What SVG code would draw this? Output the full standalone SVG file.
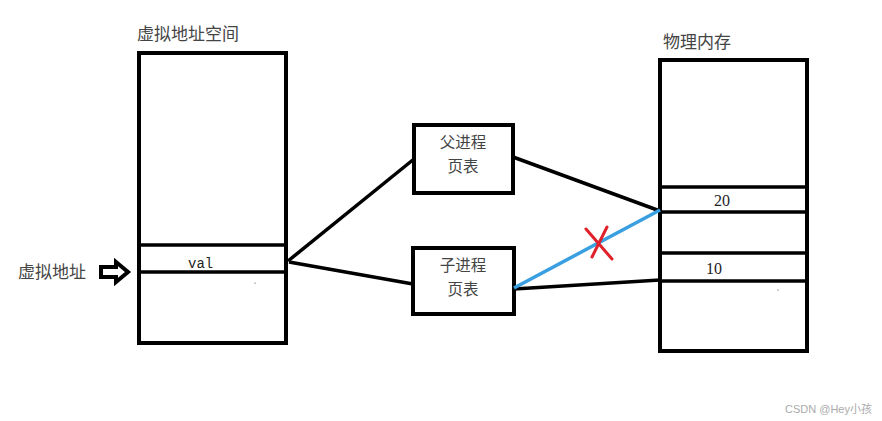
<svg xmlns="http://www.w3.org/2000/svg" width="882" height="421" viewBox="0 0 882 421">
<style>
.box{fill:#fff;stroke:#000;stroke-width:4}
.row{stroke:#000;stroke-width:3.5}
.cjk{font-family:"Noto Sans CJK SC","Noto Sans",sans-serif;font-size:17px;fill:#444}
.pt{font-family:"Noto Sans CJK SC","Noto Sans",sans-serif;font-size:15.5px;fill:#444}
.mono{font-family:"Liberation Mono",monospace;font-size:14px;fill:#222}
.num{font-family:"Liberation Serif",serif;font-size:16px;fill:#222}
.conn{stroke:#000;stroke-width:3.5;fill:none}
</style>
<rect width="882" height="421" fill="#fff"/>
<g id="virtual-space">
<text class="cjk" x="137" y="40">虚拟地址空间</text>
<rect class="box" x="139" y="53" width="147" height="290"/>
<line class="row" x1="139" y1="245" x2="286" y2="245"/>
<line class="row" x1="139" y1="272" x2="286" y2="272"/>
<text class="mono" x="188" y="268">val</text>
<circle cx="255" cy="283" r="0.6" fill="#333"/>
</g>
<g id="virtual-addr">
<text class="cjk" x="18" y="278">虚拟地址</text>
<path d="M101,267 H116 V262 L128,272 L116,282 V277 H101 Z" fill="#fff" stroke="#000" stroke-width="4" stroke-linejoin="miter"/>
</g>
<g id="parent-pt">
<rect class="box" x="414" y="125" width="99" height="68"/>
<text class="pt" x="463" y="148" text-anchor="middle">父进程</text>
<text class="pt" x="463" y="172" text-anchor="middle">页表</text>
</g>
<g id="child-pt">
<rect class="box" x="413" y="248" width="101" height="66"/>
<text class="pt" x="463" y="271" text-anchor="middle">子进程</text>
<text class="pt" x="463" y="295" text-anchor="middle">页表</text>
</g>
<g id="physical-mem">
<text class="cjk" x="663" y="48">物理内存</text>
<rect class="box" x="660" y="60" width="147" height="291"/>
<line class="row" x1="660" y1="187" x2="807" y2="187"/>
<line class="row" x1="660" y1="212" x2="807" y2="212"/>
<line class="row" x1="660" y1="253" x2="807" y2="253"/>
<line class="row" x1="660" y1="281" x2="807" y2="281"/>
<text class="num" x="722" y="206" text-anchor="middle">20</text>
<text class="num" x="714" y="274" text-anchor="middle">10</text>
<circle cx="778" cy="290" r="0.6" fill="#333"/>
</g>
<g id="connectors">
<line class="conn" x1="288" y1="261" x2="414" y2="159"/>
<line class="conn" x1="289" y1="262" x2="413" y2="284"/>
<line class="conn" x1="513" y1="157" x2="660" y2="211"/>
<line class="conn" x1="514" y1="289" x2="660" y2="280"/>
<line x1="514" y1="288" x2="660" y2="210" stroke="#3a9fe0" stroke-width="3.5"/>
<path d="M586,229 L612,259 M607,227 L592,257" stroke="#e0202a" stroke-width="3" fill="none" stroke-linecap="round"/>
</g>
<text x="785" y="413" font-family="Liberation Sans,Noto Sans CJK SC,sans-serif" font-size="11" fill="#aaa">CSDN @Hey小孩</text>
</svg>
